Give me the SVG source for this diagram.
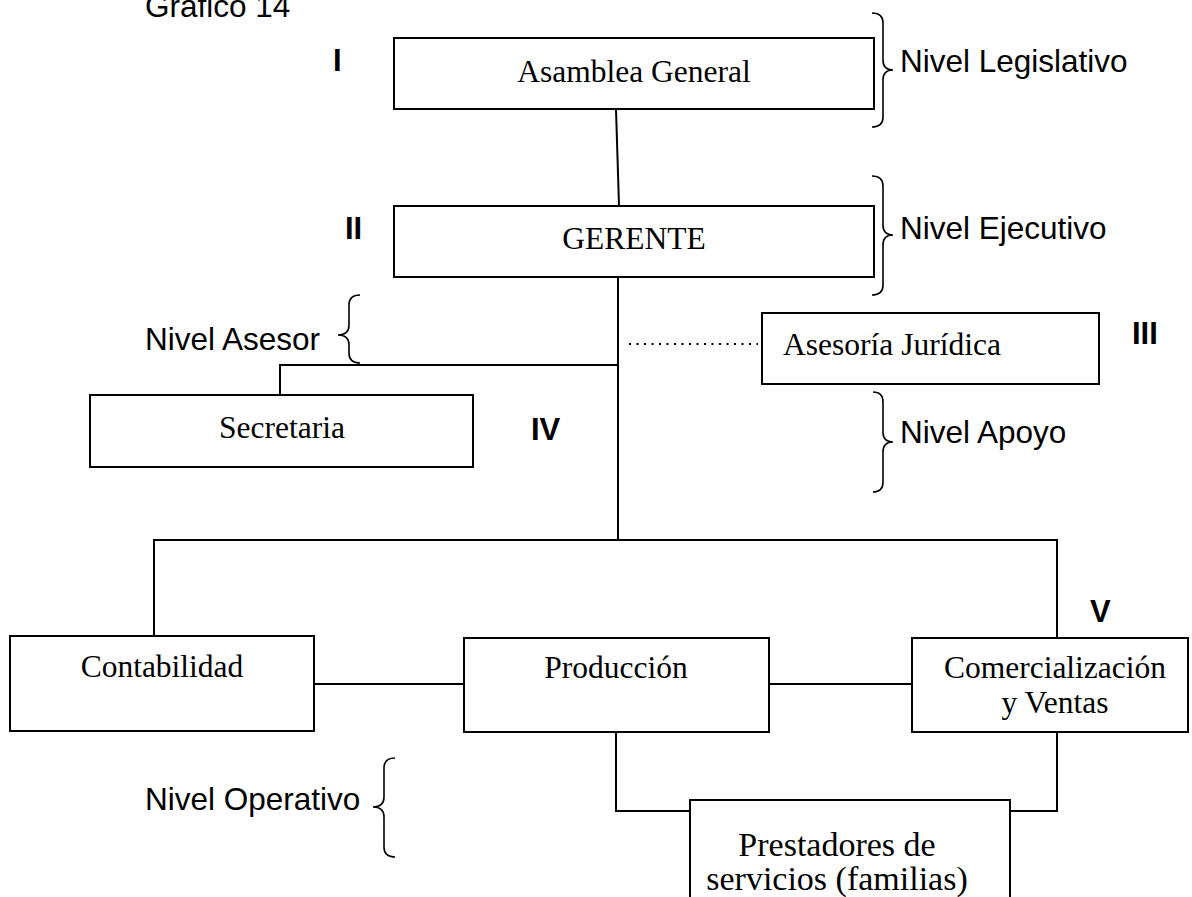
<svg xmlns="http://www.w3.org/2000/svg" width="1192" height="897" viewBox="0 0 1192 897">
  <style>
    .box { fill: #fff; stroke: #000; stroke-width: 2; }
    .ln { fill: none; stroke: #000; stroke-width: 2; }
    .dot { fill: none; stroke: #000; stroke-width: 1.8; stroke-dasharray: 2 5.5; }
    .brace { fill: none; stroke: #000; stroke-width: 1.6; }
    .serif { font-family: "Liberation Serif", "Times New Roman", serif; font-size: 31.5px; fill: #000; text-anchor: middle; }
    .serif.big { font-size: 34px; }
    .sans { font-family: "Liberation Sans", Arial, sans-serif; font-size: 31.5px; fill: #000; }
    .num { font-family: "Liberation Sans", Arial, sans-serif; font-size: 31px; font-weight: bold; fill: #000; }
  </style>
  <rect width="1192" height="897" fill="#fff"/>

  <!-- caption and level labels -->
  <text class="sans" x="145" y="17">Grafico 14</text>
  <text class="num" x="333" y="71">I</text>
  <text class="num" x="345" y="239">II</text>
  <text class="num" x="1132" y="344">III</text>
  <text class="num" x="531" y="440">IV</text>
  <text class="num" x="1090" y="622">V</text>

  <text class="sans" x="900" y="72">Nivel Legislativo</text>
  <text class="sans" x="900" y="239">Nivel Ejecutivo</text>
  <text class="sans" x="145" y="350">Nivel Asesor</text>
  <text class="sans" x="900" y="443">Nivel Apoyo</text>
  <text class="sans" x="145" y="810">Nivel Operativo</text>

  <!-- braces -->
  <g id="braces">
    <path class="brace" d="M872 13 Q883 13 883 23 L883 60 Q883 70 893 70 Q883 70 883 80 L883 117 Q883 127 872 127"/>
    <path class="brace" d="M872 176 Q883 176 883 186 L883 225 Q883 235 893 235 Q883 235 883 245 L883 285 Q883 295 872 295"/>
    <path class="brace" d="M873 392 Q883 392 883 402 L883 432 Q883 442 893 442 Q883 442 883 452 L883 482 Q883 492 873 492"/>
    <path class="brace" d="M360 295 Q349 295 349 305 L349 325 Q349 335 338 335 Q349 335 349 345 L349 353 Q349 363 360 363"/>
    <path class="brace" d="M395 758 Q384 758 384 768 L384 797 Q384 807 373 807 Q384 807 384 817 L384 847 Q384 857 395 857"/>
  </g>

  <!-- connectors -->
  <g id="connectors">
    <line class="ln" x1="616" y1="109" x2="619" y2="206"/>
    <line class="ln" x1="618" y1="277" x2="618" y2="541"/>
    <polyline class="ln" points="618,365 280,365 280,395"/>
    <line class="dot" x1="629" y1="344" x2="758" y2="344"/>
    <polyline class="ln" points="154,636 154,540 1057,540 1057,638"/>
    <line class="ln" x1="314" y1="684" x2="464" y2="684"/>
    <line class="ln" x1="769" y1="684" x2="912" y2="684"/>
    <polyline class="ln" points="616,732 616,811 690,811"/>
    <polyline class="ln" points="1057,732 1057,811 1010,811"/>
  </g>

  <!-- nodes -->
  <g id="asamblea">
    <rect class="box" x="394" y="38" width="480" height="71"/>
    <text class="serif" x="634" y="82">Asamblea General</text>
  </g>
  <g id="gerente">
    <rect class="box" x="394" y="206" width="480" height="71"/>
    <text class="serif" x="634" y="249">GERENTE</text>
  </g>
  <g id="asesoria">
    <rect class="box" x="762" y="313" width="337" height="71"/>
    <text class="serif" x="892" y="355">Asesoría Jurídica</text>
  </g>
  <g id="secretaria">
    <rect class="box" x="90" y="395" width="383" height="72"/>
    <text class="serif" x="282" y="438">Secretaria</text>
  </g>
  <g id="contabilidad">
    <rect class="box" x="10" y="636" width="304" height="95"/>
    <text class="serif" x="162" y="677">Contabilidad</text>
  </g>
  <g id="produccion">
    <rect class="box" x="464" y="638" width="305" height="94"/>
    <text class="serif" x="616" y="678">Producción</text>
  </g>
  <g id="comercializacion">
    <rect class="box" x="912" y="638" width="276" height="94"/>
    <text class="serif" x="1055" y="678">Comercialización</text>
    <text class="serif" x="1055" y="713">y Ventas</text>
  </g>
  <g id="prestadores">
    <rect class="box" x="690" y="800" width="320" height="104"/>
    <text class="serif big" x="837" y="856">Prestadores de</text>
    <text class="serif big" x="837" y="890">servicios (familias)</text>
  </g>
</svg>
